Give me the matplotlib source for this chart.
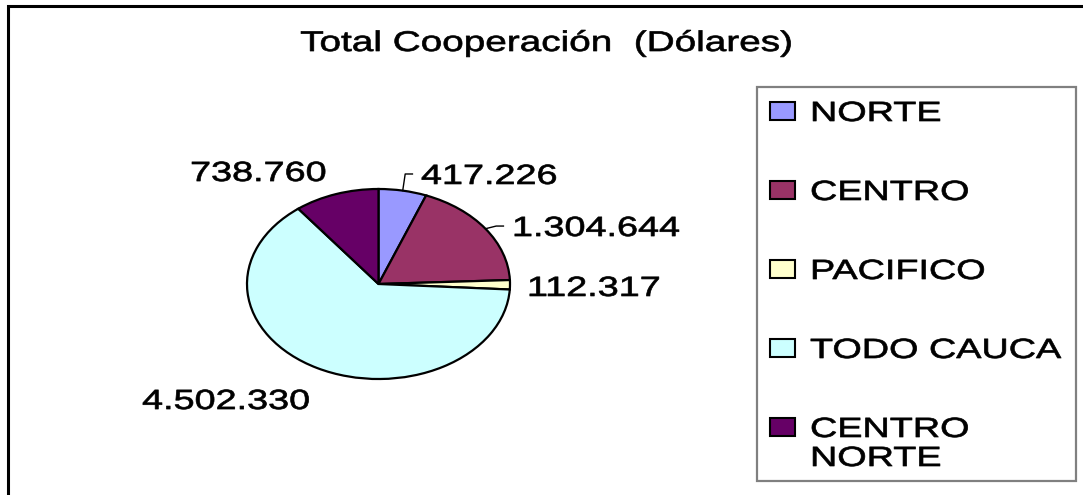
import matplotlib
matplotlib.use("Agg")
import matplotlib.pyplot as plt
import numpy as np
from matplotlib.patches import Rectangle
from matplotlib.patheffects import AbstractPathEffect
from matplotlib.transforms import Affine2D

plt.rcParams['font.family'] = ['Liberation Sans', 'DejaVu Sans']

# data
regiones = ["NORTE", "CENTRO", "PACIFICO", "TODO CAUCA", "CENTRO\nNORTE"]
valores = [417226, 1304644, 112317, 4502330, 738760]
colores = ["#9999FF", "#993366", "#FFFFCC", "#CCFFFF", "#660066"]
titulo = "Total Cooperación  (Dólares)"

# where the value labels sit (pie axes units) and which get a leader line
pos_etiquetas = [(0.323, 1.053), (1.015, 0.505), (1.129, -0.126),
                 (-1.798, -1.316), (-1.433, 1.084)]
con_guia = [True, True, False, False, False]

W, H = 1083, 495
SX = 1.36  # the original is stretched sideways


def fx(px):
    return px / W


def fy(py):
    return 1 - py / H


class Ancho(AbstractPathEffect):
    # widen the glyphs around the text anchor, with a thin stroke
    def __init__(self, texto, sx, trazo=0.5):
        super().__init__()
        self.texto = texto
        self.sx = sx
        self.trazo = trazo

    def draw_path(self, renderer, gc, tpath, affine, rgbFace=None):
        t = self.texto
        x0 = t.get_transform().transform(t.get_position())[0]
        m = affine.get_matrix().copy()
        m[0, 0] *= self.sx
        m[0, 1] *= self.sx
        m[0, 2] = x0 + self.sx * (m[0, 2] - x0)
        gc0 = renderer.new_gc()
        gc0.copy_properties(gc)
        gc0.set_linewidth(self.trazo)
        gc0.set_foreground(rgbFace)
        renderer.draw_path(gc0, tpath, Affine2D(m), rgbFace)
        gc0.restore()


def ancho(t):
    t.set_path_effects([Ancho(t, SX)])
    return t


fig = plt.figure(figsize=(W / 100, H / 100), dpi=100)

# outer frame (only top and left show, like the crop)
fig.add_artist(Rectangle((fx(8), -0.2), 1.5, fy(6) + 0.2, transform=fig.transFigure,
                         fill=False, ec="black", lw=2.2))

ancho(fig.text(fx(547), fy(51), titulo, ha="center", va="baseline", fontsize=20.5))

# pie, squashed into an ellipse
ax = fig.add_axes([fx(247), fy(379), 263 / W, 190 / H])
cunas, _ = ax.pie(valores, colors=colores, startangle=90, counterclock=False,
                  wedgeprops=dict(edgecolor="black", linewidth=1.6, clip_on=False))
ax.set_aspect("auto")
ax.set_xlim(-1, 1)
ax.set_ylim(-1, 1)
ax.axis("off")

for i, w in enumerate(cunas):
    u, v = pos_etiquetas[i]
    txt = f"{valores[i]:,}".replace(",", ".")
    ancho(ax.text(u, v, txt, ha="left", va="baseline", fontsize=20, clip_on=False))
    if con_guia[i]:
        mid = np.deg2rad((w.theta1 + w.theta2) / 2)
        xs = [np.cos(mid), u - 0.12, u - 0.065]
        ys = [np.sin(mid), v + 0.105, v + 0.105]
        ax.plot(xs, ys, color="black", lw=1.0, clip_on=False)

# legend drawn by hand
fig.add_artist(Rectangle((fx(757), fy(481)), (1076 - 757) / W, (481 - 87) / H,
                         transform=fig.transFigure, fill=False, ec="#808080", lw=1.6))
for i, nombre in enumerate(regiones):
    cy = 111 + i * 79
    fig.add_artist(Rectangle((fx(770), fy(cy + 9)), 25 / W, 18 / H,
                             transform=fig.transFigure, fc=colores[i], ec="black", lw=1.5))
    ancho(fig.text(fx(810), fy(cy - 10), nombre, ha="left", va="top", fontsize=20,
                   linespacing=1.15))

fig.savefig("out.png", dpi=100)
